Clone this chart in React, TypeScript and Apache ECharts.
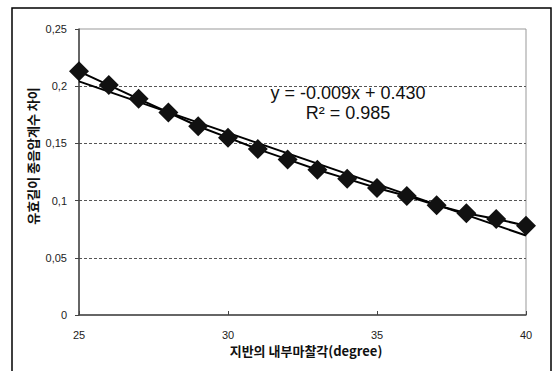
import React, { useEffect, useRef } from "react";
import * as echarts from "echarts";

const angles = [25, 26, 27, 28, 29, 30, 31, 32, 33, 34, 35, 36, 37, 38, 39, 40];
const diffs = [0.213, 0.201, 0.189, 0.177, 0.165, 0.155, 0.145, 0.136, 0.127, 0.119, 0.111, 0.104, 0.096, 0.089, 0.084, 0.078];
const xTitle = "지반의 내부마찰각(degree)";
const yTitle = "유효길이 종음압계수 차이";
const equationText = "y = -0.009x + 0.430";
const r2Text = "R² = 0.985";

const latin = "'Liberation Sans', Arial, 'Noto Sans CJK KR', sans-serif";
const korean = "'Noto Sans CJK KR', 'Liberation Sans', sans-serif";

function linearFit(xs: number[], ys: number[]) {
  const n = xs.length;
  const mx = xs.reduce((a, b) => a + b, 0) / n;
  const my = ys.reduce((a, b) => a + b, 0) / n;
  let sxy = 0;
  let sxx = 0;
  for (let i = 0; i < n; i++) {
    sxy += (xs[i] - mx) * (ys[i] - my);
    sxx += (xs[i] - mx) * (xs[i] - mx);
  }
  const slope = sxy / sxx;
  return { slope, intercept: my - slope * mx };
}

export default function App() {
  const ref = useRef<HTMLDivElement>(null);
  useEffect(() => {
    document.body.style.margin = "0";
    if (!ref.current) return;
    const chart = echarts.init(ref.current, undefined, { renderer: "svg" });
    const fit = linearFit(angles, diffs);
    const x0 = angles[0];
    const x1 = angles[angles.length - 1];
    const trend = [
      [x0, fit.intercept + fit.slope * x0],
      [x1, fit.intercept + fit.slope * x1],
    ];
    chart.setOption({
      animation: false,
      backgroundColor: "#fff",
      grid: {
        left: 79,
        top: 29,
        right: 31,
        bottom: 56,
        show: true,
        borderColor: "#999",
        borderWidth: 1,
      },
      xAxis: {
        type: "value",
        min: 25,
        max: 40,
        interval: 5,
        axisLine: { lineStyle: { color: "#444", width: 1.5 } },
        axisTick: { inside: true, length: 4, lineStyle: { color: "#444" } },
        axisLabel: { margin: 14, color: "#222", fontSize: 11, fontFamily: latin },
        splitLine: { show: false },
      },
      yAxis: {
        type: "value",
        min: 0,
        max: 0.25,
        interval: 0.05,
        axisLine: { show: true, lineStyle: { color: "#444", width: 1.5 } },
        axisTick: { show: true, length: 4, lineStyle: { color: "#444" } },
        axisLabel: {
          margin: 12,
          color: "#222",
          fontSize: 11,
          fontFamily: latin,
          formatter: (v: number) => Number(v.toFixed(2)).toString().replace(".", ","),
        },
        splitLine: {
          show: true,
          lineStyle: {
            type: [3, 2],
            width: 1,
            color: ["transparent", "#555", "#555", "#555", "#555", "transparent"],
          },
        },
      },
      graphic: [
        {
          type: "rect",
          shape: { x: 12, y: 8, width: 539, height: 380 },
          style: { fill: "none", stroke: "#000", lineWidth: 1.5 },
          silent: true,
        },
        {
          type: "text",
          x: 32,
          y: 156,
          rotation: Math.PI / 2,
          style: {
            text: yTitle,
            align: "center",
            verticalAlign: "middle",
            fontSize: 13,
            fontWeight: "bold",
            fontFamily: korean,
            fill: "#111",
          },
        },
        {
          type: "text",
          x: 306,
          y: 350,
          style: {
            text: xTitle,
            align: "center",
            verticalAlign: "middle",
            fontSize: 13,
            fontWeight: "bold",
            fontFamily: korean,
            fill: "#111",
          },
        },
        {
          type: "text",
          x: 348,
          y: 103,
          z: 10,
          style: {
            text: equationText + "\n" + r2Text,
            align: "center",
            verticalAlign: "middle",
            fontSize: 18,
            lineHeight: 20,
            fontFamily: latin,
            fill: "#111",
          },
        },
      ],
      series: [
        {
          name: "trend",
          type: "line",
          data: trend,
          symbol: "none",
          lineStyle: { color: "#000", width: 2 },
          z: 2,
        },
        {
          name: "data",
          type: "line",
          data: angles.map((a, i) => [a, diffs[i]]),
          symbol: "diamond",
          symbolSize: 20,
          itemStyle: { color: "#111" },
          lineStyle: { color: "#000", width: 2 },
          z: 3,
        },
      ],
    });
    return () => chart.dispose();
  }, []);
  return <div ref={ref} style={{ width: 557, height: 371 }} />;
}
